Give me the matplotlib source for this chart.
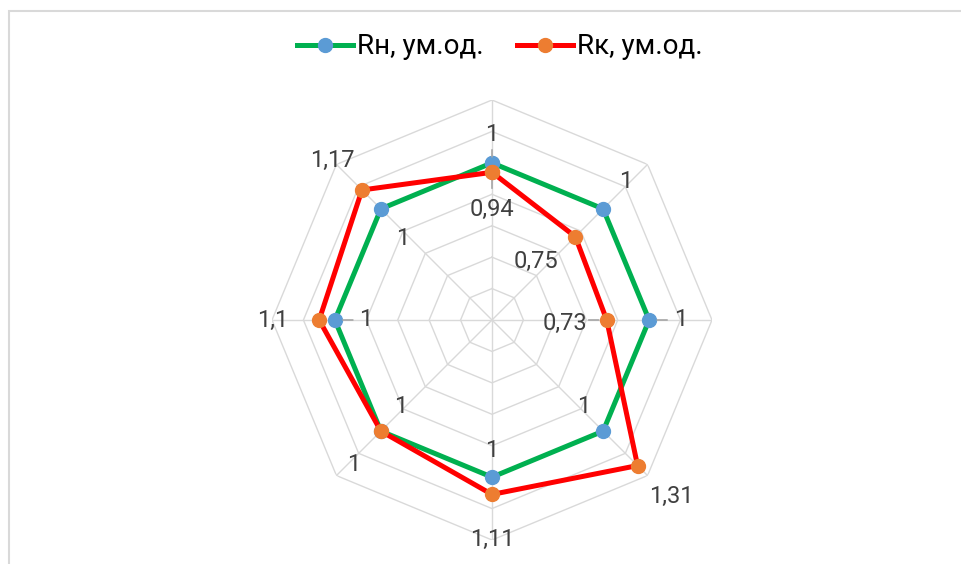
import numpy as np
import matplotlib.pyplot as plt
from matplotlib.patches import Rectangle

plt.rcParams['font.family'] = ['Roboto', 'DejaVu Sans']

# data
r_n = [1, 1, 1, 1, 1, 1, 1, 1]
r_k = [0.94, 0.75, 0.73, 1.31, 1.11, 1, 1.1, 1.17]
labels_n = ['1', '1', '1', '1', '1', '1', '1', '1']
labels_k = ['0,94', '0,75', '0,73', '1,31', '1,11', '1', '1,1', '1,17']

# label offsets in pixels (x right, y up)
off_n = [(0, 28), (23, 27), (32, 0), (-19, 25), (0, 27), (20, 25), (31, 0), (22, -30)]
off_k = [(0, -37), (-39, -25), (-42, -3), (34, -31), (0, -45), (-27, -33), (-46, 0), (-30, 30)]
# leader lines: (start, end) offsets in pixels from the point
lead_n = {0: ((0, 6), (0, 13)), 2: ((8, 0), (18, 0)), 6: ((8, 0), (18, 0))}
lead_k = {0: ((0, -7), (0, -16)), 2: ((-8, 0), (-18, 0))}

n = len(r_n)
theta = np.linspace(0, 2 * np.pi, n, endpoint=False)
rmax = 1.4

fig = plt.figure(figsize=(9.62, 5.64), dpi=100)
fig.patches.append(Rectangle((9 / 962, -0.1), 1.2, (564 - 11) / 564 + 0.1,
                             transform=fig.transFigure, fill=False,
                             edgecolor='#d9d9d9', linewidth=1.5))

ax = fig.add_axes([272 / 962, 24 / 564, 440 / 962, 440 / 564], projection='polar')
ax.set_theta_zero_location('N')
ax.set_theta_direction(-1)
ax.set_ylim(0, rmax)
ax.grid(False)
ax.spines['polar'].set_visible(False)
ax.set_xticks([])
ax.set_yticks([])
ax.patch.set_alpha(0)

# octagon grid
tc = np.append(theta, theta[0])
for r in np.arange(0.2, rmax + 0.01, 0.2):
    ax.plot(tc, [r] * (n + 1), color='#d9d9d9', lw=1, zorder=1)
for t in theta:
    ax.plot([t, t], [0, rmax], color='#d9d9d9', lw=1, zorder=1)

ax.plot(tc, r_n + r_n[:1], color='#00b050', lw=3.6, marker='o', ms=10,
        mfc='#5b9bd5', mec='#5b9bd5', zorder=3, label='Rн, ум.од.')
ax.plot(tc, r_k + r_k[:1], color='#ff0000', lw=3.6, marker='o', ms=10,
        mfc='#ed7d31', mec='#ed7d31', zorder=4, label='Rк, ум.од.')

def put_labels(vals, texts, offs, leads):
    for i, (t, v, s, o) in enumerate(zip(theta, vals, texts, offs)):
        ax.annotate(s, (t, v), xytext=o, textcoords='offset pixels',
                    ha='center', va='center', fontsize=17, color='#404040',
                    zorder=5)
        if i in leads:
            a, b = leads[i]
            ax.annotate('', (t, v), xytext=b, textcoords='offset pixels',
                        arrowprops=dict(arrowstyle='-', color='#a6a6a6', lw=1.2,
                                        shrinkA=0,
                                        shrinkB=np.hypot(*a) * 0.72))

put_labels(r_n, labels_n, off_n, lead_n)
put_labels(r_k, labels_k, off_k, lead_k)

fig.legend(loc='center', bbox_to_anchor=(500 / 962, 1 - 47 / 564), ncol=2,
           frameon=False, fontsize=20, handlelength=2.0, columnspacing=1.2,
           handletextpad=0.15)

fig.savefig('out.png', dpi=100)
